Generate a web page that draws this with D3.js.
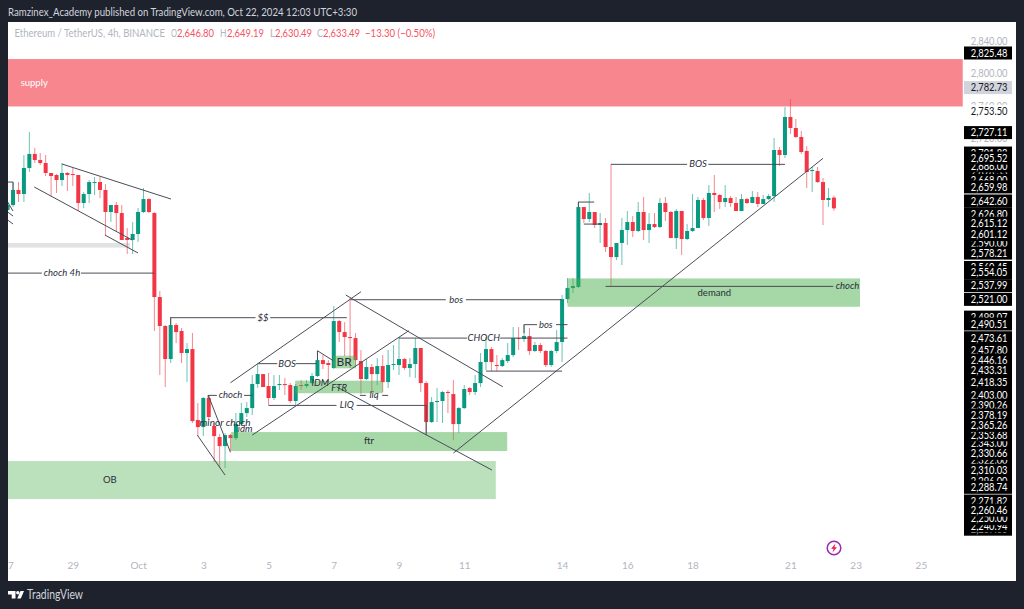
<!DOCTYPE html>
<html><head><meta charset="utf-8">
<script src="https://cdn.jsdelivr.net/npm/d3@7/dist/d3.min.js"></script>
<style>html,body{margin:0;padding:0;background:#1e222d;overflow:hidden}svg{display:block}text{font-family:Lato,"Noto Sans",sans-serif}</style>
</head><body><div id="c"></div>
<script>
const opens=[2631.4,2637.6,2656.2,2651.2,2683.4,2700.7,2693.2,2689.5,2677.2,2674.7,
2668.5,2677.2,2675.9,2674.7,2640.1,2651.2,2664.8,2666,2656.2,2629,
2637.6,2627.7,2596.8,2594.4,2601.8,2629,2645,2627.7,2523.9,2488.1,
2447.3,2489.3,2481.9,2454.7,2459.6,2371.9,2363.2,2399.1,2364.5,2350.9,
2339.7,2353.3,2349.6,2366.9,2380.5,2386.7,2416.4,2428.7,2413.9,2399.1,
2415.1,2416.4,2415.1,2395.4,2415.1,2413.9,2417.6,2426.3,2446,2442.3,
2436.2,2494.2,2480.6,2474.5,2473.2,2444.8,2422.6,2437.4,2428.7,2438.6,
2418.8,2439.9,2439.9,2447.3,2436.2,2441.1,2460.9,2417.6,2369.4,2394.1,
2395.4,2406.5,2404,2366.9,2386.7,2411.4,2406.5,2417.6,2443.6,2459.6,
2439.9,2438.6,2444.8,2452.2,2473.2,2472,2475.7,2457.2,2464.6,2457.2,
2439.9,2457.2,2468.3,2521.4,2535,2536.3,2635.1,2620.3,2629,2612.9,
2615.4,2585.7,2573.3,2590.7,2606.7,2616.6,2605.5,2629,2606.7,2614.1,
2610.4,2640.1,2629,2596.8,2630.2,2595.6,2605.5,2609.2,2643.8,2621.6,
2652.5,2650,2641.3,2646.3,2640.1,2630.2,2645,2640.1,2647.5,2638.9,
2645,2648.7,2705.6,2699.4,2746.4,2732.8,2721.7,2704.4,2679.6,2679.6,
2666,2643.8,2646.8];
const highs=[2641.3,2666,2666,2699.4,2727.8,2708.1,2701.9,2699.4,2677.2,2675.9,
2689.5,2678.4,2683.4,2674.7,2653.7,2668.5,2672.2,2672.2,2663.6,2637.6,
2641.3,2637.6,2609.2,2616.6,2633.9,2658.6,2646.3,2629,2531.3,2489.3,
2499.2,2491.8,2485.6,2467,2479.4,2392.9,2400.3,2402.8,2368.2,2354.6,
2355.8,2354.6,2380.5,2392.9,2394.1,2427.5,2441.1,2428.7,2430,2427.5,
2427.5,2423.8,2417.6,2416.4,2421.3,2421.3,2430,2457.2,2452.2,2446,
2512.8,2495.5,2493,2522.7,2479.4,2458.4,2447.3,2441.1,2448.5,2452.2,
2458.4,2464.6,2474.5,2448.5,2448.5,2473.2,2460.9,2420.1,2400.3,2411.4,
2407.7,2409,2421.3,2388,2415.1,2412.7,2427.5,2454.7,2474.5,2462.1,
2452.2,2448.5,2467,2486.8,2486.8,2489.3,2485.6,2468.3,2467,2458.4,
2458.4,2483.1,2526.4,2547.4,2547.4,2641.3,2635.1,2652.5,2629,2627.7,
2621.6,2688.3,2590.7,2621.6,2630.2,2624,2641.3,2647.5,2627.7,2627.7,
2646.3,2647.5,2630.2,2632.7,2630.2,2614.1,2651.2,2647.5,2646.3,2662.3,
2674.7,2651.2,2662.3,2648.7,2647.5,2651.2,2646.3,2654.9,2653.7,2650,
2651.2,2720.4,2709.3,2758.7,2768.6,2743.9,2729.1,2710.5,2684.6,2684.6,
2671,2658.6,2649.19];
const lows=[2629,2635.1,2641.3,2641.3,2678.4,2689.5,2687.1,2673.5,2648.7,2652.5,
2661.1,2654.9,2661.1,2630.2,2633.9,2640.1,2650,2646.3,2600.5,2616.6,
2604.2,2594.4,2577.1,2577.1,2591.9,2627.7,2627.7,2481.9,2427.5,2412.7,
2442.3,2467,2442.3,2418.8,2368.2,2352.1,2352.1,2370.6,2320,2312.6,
2312.6,2333.6,2347.2,2364.5,2375.6,2378.1,2411.4,2412.7,2390.4,2396.6,
2409,2402.8,2392.9,2390.4,2409,2411.4,2416.4,2425,2434.9,2417.6,
2434.9,2468.3,2451,2436.2,2437.4,2404,2421.3,2405.3,2415.1,2406.5,
2411.4,2433.7,2427.5,2433.7,2425,2423.8,2406.5,2355.8,2368.2,2369.4,
2368.2,2380.5,2347.2,2355.8,2385.5,2402.8,2402.8,2412.7,2433.7,2432.4,
2432.4,2437.4,2442.3,2449.7,2458.4,2468.3,2452.2,2455.9,2454.7,2437.4,
2437.4,2454.7,2443.6,2516.5,2528.9,2535,2615.4,2616.6,2609.2,2590.7,
2579.5,2537.5,2569.6,2563.5,2588.2,2598.1,2604.2,2594.4,2590.7,2609.2,
2609.2,2617.8,2596.8,2583.2,2575.8,2594.4,2604.2,2609.2,2619.1,2611.7,
2629,2632.7,2635.1,2635.1,2630.2,2630.2,2638.9,2640.1,2635.1,2638.9,
2643.8,2641.3,2685.8,2695.7,2725.4,2720.4,2700.7,2658.6,2653.7,2664.8,
2612.9,2635.1,2630.49];
const closes=[2637.6,2656.2,2651.2,2683.4,2700.7,2693.2,2689.5,2677.2,2673.5,2668.5,
2677.2,2674.7,2674.7,2640.1,2651.2,2666,2666,2656.2,2629,2637.6,
2627.7,2594.4,2594.4,2601.8,2629,2645,2629,2523.9,2488.1,2447.3,
2489.3,2480.6,2454.7,2459.6,2370.6,2363.2,2399.1,2375.6,2352.1,2339.7,
2353.3,2349.6,2366.9,2380.5,2386.7,2416.4,2428.7,2412.7,2399.1,2413.9,
2416.4,2415.1,2395.4,2413.9,2413.9,2416.4,2426.3,2446,2441.1,2439.9,
2494.2,2480.6,2474.5,2473.2,2446,2422.6,2437.4,2428.7,2438.6,2418.8,
2439.9,2441.1,2447.3,2436.2,2441.1,2460.9,2417.6,2369.4,2394.1,2395.4,
2406.5,2405.3,2366.9,2386.7,2410.2,2406.5,2417.6,2443.6,2459.6,2443.6,
2438.6,2446,2452.2,2473.2,2472,2475.7,2457.2,2464.6,2457.2,2439.9,
2457.2,2468.3,2521.4,2535,2537.5,2635.1,2620.3,2629,2612.9,2615.4,
2585.7,2573.3,2590.7,2606.7,2616.6,2605.5,2629,2606.7,2614.1,2610.4,
2640.1,2629,2596.8,2630.2,2595.6,2605.5,2609.2,2643.8,2621.6,2652.5,
2650,2641.3,2646.3,2640.1,2630.2,2645,2640.1,2647.5,2638.9,2645,
2648.7,2705.6,2699.4,2746.4,2732.8,2721.7,2703.1,2678.4,2680.9,2666,
2643.8,2646.3,2633.49];

const timeTickIndex=[0,12,24,36,48,60,72,84,102,114,126,144,156,168];
const timeTickLabels=["27","29","Oct","3","5","7","9","11","14","16","18","21","23","25"];
const priceTicks=[2840,2800,2760,2720];
const lastPrice=2782.73;
const whitePrice=2753.50;
const coveredLabels=[2237,2240.94,2250,2343,2353.68,2322,2296,2499.07,2560.45,2590,2701.83,2678.33,2686,2668];
const blackLabels=[2825.48,2727.11,2695.52,2659.98,2642.60,2626.80,2615.12,2601.12,2578.21,2554.05,2537.99,2521.00,2490.51,2473.61,2457.80,2446.16,2433.31,2418.35,2403.00,2390.26,2378.19,2365.26,2330.66,2310.03,2288.74,2271.82,2260.46];

// zones: bar index from/to, price from/to
const zoneSupply=[-1,2818,175.7,2759.4];
const zoneGrey=[-1,2590.7,22.5,2585];
const zoneOB=[-1,2321.2,89.8,2274.2];
const zoneFtr=[41.1,2357,91.9,2333.6];
const zoneFTR=[52.9,2420.5,69,2405];
const zoneBR=[59.9,2451.4,64.1,2435.8];
const zoneDemand=[103,2546.9,156.8,2511.9];

// annotation lines: bar index, price, bar index, price
const trendLines=[
[10,2688.3,30.05,2645],[4.9,2659.9,22.9,2594.4],[17.9,2600.5,24,2578.3],
[0,2641.3,1,2630.2],[0,2629,1,2624],[0,2619.1,1,2614.1],[0,2666,1,2666],[1,2666,1,2656.2],
[36.9,2402.8,41,2332],[34.9,2353.3,40,2303.9],
[41,2418,65,2530.4],[45,2353.3,73.8,2482.3],
[57,2457.5,59.9,2445.2],[57,2457.5,57,2446],
[62.2,2526.4,91.1,2413],[60.5,2413,89.1,2310.1],
[82,2331.1,150,2695.3]];
const levelLines=[
[-1,6.3,2553.9],[13.5,27,2553.9],
[30,45.6,2498.8],[48.3,62.4,2498.8],
[36.9,38.5,2402.8],[43.5,45.1,2402.8],
[46,49.6,2442],[53,56.9,2442],
[48,60.5,2390.4],[64.2,77,2390.4],
[64.8,65.9,2402.8],[68.9,70,2402.8],
[63.1,80.6,2521],[84.3,101.9,2521],
[72,84.5,2473.6],[90.6,103,2473.6],
[95,97.4,2490.2],[100.9,103,2490.2],
[88,102,2432.8],
[105,107.9,2641.7],[106,109.3,2614.5],
[111,125,2688.3],[128.9,143,2688.3],
[110,151.9,2537.5]];
const stems=[[30,2498.8,2489.3],[36.9,2402.8,2399],[77,2390.4,2353.3],[95,2490.2,2479.4],[105,2641.7,2635]];

const noteTexts=["choch 4h","$$","choch","minor choch","idm","BOS","IDM","FTR","LIQ","liq","bos","CHOCH","bos","BOS","choch"];
const noteIndex=[10,47,41,40,43.7,51.4,57.5,61,62.4,67.4,82.5,87.6,99,127,154.5];
const notePrice=[2553.9,2498.8,2402.8,2369,2360.8,2442,2418,2411.8,2390.4,2402.8,2521,2473.6,2490.2,2688.3,2537.5];
const plainTexts=["ftr","demand","OB"];
const plainIndex=[66.5,130,18.8];
const plainPrice=[2345.9,2529.7,2297.7];

const W=1024,H=609;
const svg=d3.select("#c").append("svg").attr("width",W).attr("height",H);
svg.append("rect").attr("width",W).attr("height",H).attr("fill","#1e222d");
svg.append("rect").attr("x",8).attr("y",22).attr("width",1008).attr("height",559).attr("fill","#fff");

const x=d3.scaleLinear().domain([0,152]).range([7.6,833.9]);
const y=d3.scaleLinear().domain([2825.48,2240.94]).range([53,526]);

svg.append("clipPath").attr("id","pane").append("rect").attr("x",8).attr("y",22).attr("width",956).attr("height",559);
const pane=svg.append("g").attr("clip-path","url(#pane)");

const up="#089981",dn="#f23645";
const idx=d3.range(closes.length);
const col=i=>closes[i]>=opens[i]?up:dn;
pane.append("g").selectAll("line").data(idx).join("line")
 .attr("x1",x).attr("x2",x).attr("y1",i=>y(highs[i])).attr("y2",i=>y(lows[i]))
 .attr("stroke",col).attr("stroke-width",1).attr("stroke-opacity",.6);
pane.append("g").selectAll("rect").data(idx).join("rect")
 .attr("x",i=>x(i)-2).attr("width",4)
 .attr("y",i=>Math.min(y(opens[i]),y(closes[i])))
 .attr("height",i=>Math.max(1,Math.abs(y(opens[i])-y(closes[i]))))
 .attr("fill",col);

function zone(z,fill,op){pane.append("rect").attr("x",x(z[0])).attr("width",x(z[2])-x(z[0]))
 .attr("y",y(z[1])).attr("height",y(z[3])-y(z[1])).attr("fill",fill).attr("fill-opacity",op);}
zone(zoneSupply,"#f23645",.6);
zone(zoneGrey,"#787b86",.22);
zone(zoneOB,"#4caf50",.38);
zone(zoneFtr,"#4caf50",.5);
zone(zoneFTR,"#4caf50",.5);
zone(zoneBR,"#4caf50",.5);
zone(zoneDemand,"#4caf50",.5);

const lc="#4a4d57";
pane.append("g").selectAll("line").data(trendLines).join("line")
 .attr("x1",d=>x(d[0])).attr("y1",d=>y(d[1])).attr("x2",d=>x(d[2])).attr("y2",d=>y(d[3]))
 .attr("stroke",lc).attr("stroke-width",1);
pane.append("g").selectAll("line").data(levelLines).join("line")
 .attr("x1",d=>x(d[0])).attr("x2",d=>x(d[1])).attr("y1",d=>y(d[2])+.35).attr("y2",d=>y(d[2])+.35)
 .attr("stroke",lc).attr("stroke-width",1);
pane.append("g").selectAll("line").data(stems).join("line")
 .attr("x1",d=>x(d[0])).attr("x2",d=>x(d[0])).attr("y1",d=>y(d[1])).attr("y2",d=>y(d[2]))
 .attr("stroke",lc).attr("stroke-width",1);

pane.append("g").selectAll("text").data(noteTexts).join("text")
 .attr("x",(d,i)=>x(noteIndex[i])).attr("y",(d,i)=>y(notePrice[i])).attr("dy","0.35em")
 .attr("text-anchor","middle").attr("font-size",d=>d==="minor choch"?10:9.5).attr("font-style","italic").attr("fill","#2a2e39").text(d=>d);
pane.append("g").selectAll("text").data(plainTexts).join("text")
 .attr("x",(d,i)=>x(plainIndex[i])).attr("y",(d,i)=>y(plainPrice[i])).attr("dy","0.35em")
 .attr("text-anchor","middle").attr("font-size",9.5).attr("fill","#2a2e39").text(d=>d);
pane.append("text").attr("x",x(4.9)).attr("y",y(2789)).attr("dy","0.35em").attr("text-anchor","middle")
 .attr("font-size",9.5).attr("fill","#fff").text("supply");
pane.append("text").attr("x",x(61.9)).attr("y",y(2444.4)).attr("dy","0.35em").attr("text-anchor","middle")
 .attr("font-size",12).attr("fill","#2a2e39").text("BR");

// time axis
const tg=svg.append("g").attr("clip-path","url(#pane)");
const timeAxis=d3.axisBottom(x).tickValues(timeTickIndex).tickSize(0).tickPadding(0)
 .tickFormat(d=>timeTickLabels[timeTickIndex.indexOf(d)]);
const tAxis=tg.append("g").attr("transform","translate(0,562)").call(timeAxis);
tAxis.select(".domain").remove();
tAxis.selectAll("text").attr("fill","#b2b5be").attr("font-size",10).attr("font-family","Lato");

const numW=36.7;
// price axis
const pAxis=svg.append("g").attr("transform","translate(1007.5,0)")
 .call(d3.axisLeft(y).tickValues(priceTicks).tickSize(0).tickPadding(0).tickFormat(d3.format(",.2f")));
pAxis.select(".domain").remove();
pAxis.selectAll("text").attr("fill","#b2b5be").attr("font-size",10.5).attr("font-family","Lato")
 .attr("textLength",numW).attr("lengthAdjust","spacingAndGlyphs");

const fmt=d3.format(",.2f");
function priceLabel(p,bg,fg){
 const g=svg.append("g");
 g.append("rect").attr("x",964).attr("width",48).attr("y",y(p)-6.5).attr("height",13).attr("fill",bg);
 g.append("text").attr("x",1007.5).attr("y",y(p)).attr("dy","0.36em").attr("text-anchor","end")
  .attr("font-size",10.5).attr("fill",fg).attr("textLength",numW).attr("lengthAdjust","spacingAndGlyphs").text(fmt(p));
}
priceLabel(lastPrice,"#d1d4dc","#131722");
priceLabel(whitePrice,"#fff","#131722");
coveredLabels.forEach(p=>priceLabel(p,"#000","#fff"));
blackLabels.forEach(p=>priceLabel(p,"#000","#fff"));

// headers
svg.append("text").attr("x",8).attr("y",16).attr("font-size",10.5).attr("fill","#d1d4dc")
 .attr("textLength",349).attr("lengthAdjust","spacingAndGlyphs")
 .text("Ramzinex_Academy published on TradingView.com, Oct 22, 2024 12:03 UTC+3:30");
const gray="#b2b5be",red="#f7525f";
const legendParts=[["Ethereum / TetherUS, 4h, BINANCE",14.5,gray,150.5],["O",171,gray,6],["2,646.80",177,red,37],["H",220,gray,6.5],["2,649.19",227,red,37],["L",270,gray,5],["2,630.49",275,red,37],["C",317,gray,6],["2,633.49",323,red,37],["−13.30 (−0.50%)",365,red,70]];
svg.append("g").selectAll("text").data(legendParts).join("text")
 .attr("x",d=>d[1]).attr("y",37).attr("font-size",10.5).attr("fill",d=>d[2])
 .attr("textLength",d=>d[3]).attr("lengthAdjust","spacingAndGlyphs").text(d=>d[0]);

// TradingView footer
const logo=svg.append("g").attr("transform","translate(8,591)").attr("fill","#fff");
logo.append("path").attr("d","M0 0H7.5V7.5H3.7V3.6H0Z");
logo.append("circle").attr("cx",9.8).attr("cy",1.7).attr("r",1.7);
logo.append("path").attr("d","M12.5 0H16L12.8 7.5H9.2Z");
svg.append("text").attr("x",27).attr("y",599).attr("font-size",12.5).attr("fill","#d1d4dc")
 .attr("textLength",56).attr("lengthAdjust","spacingAndGlyphs").text("TradingView");

// lightning badge
const b=svg.append("g").attr("transform","translate(834,548)");
b.append("circle").attr("r",6.8).attr("fill","none").attr("stroke","#9c27b0").attr("stroke-width",1.5);
b.append("path").attr("d","M1.5 -4.5L-3 0.8H-0.4L-1.5 4.5L3 -0.8H0.4Z").attr("fill","#e91e63");
</script></body></html>
